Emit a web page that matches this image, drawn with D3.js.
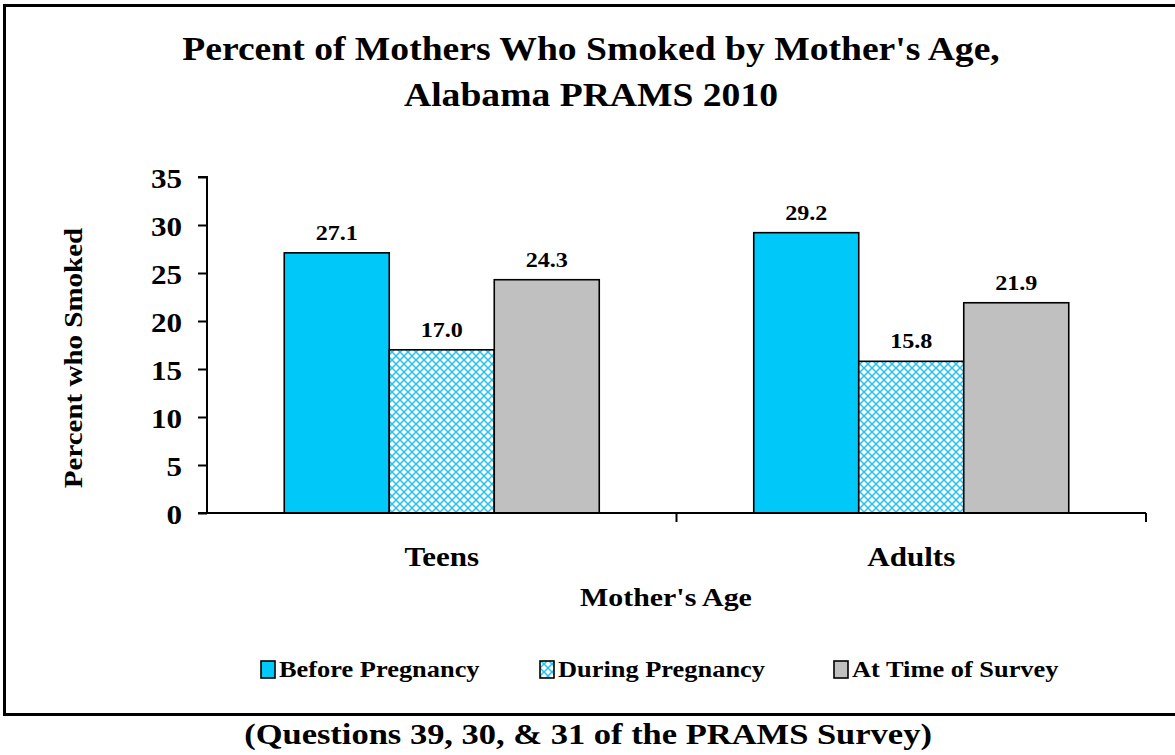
<!DOCTYPE html>
<html><head><meta charset="utf-8">
<script src="https://cdn.jsdelivr.net/npm/d3@7"></script>
<style>body{margin:0;background:#fff;}svg{display:block;font-family:"Liberation Serif","Times New Roman",serif;font-weight:bold;}</style>
</head><body>
<svg id="c" width="1175" height="755"></svg>
<script>
const categories = ["Teens", "Adults"];
const seriesNames = ["Before Pregnancy", "During Pregnancy", "At Time of Survey"];
const beforePregnancy = [27.1, 29.2];
const duringPregnancy = [17.0, 15.8];
const atTimeOfSurvey = [24.3, 21.9];
const yTicks = [0, 5, 10, 15, 20, 25, 30, 35];
const seriesValues = [beforePregnancy, duringPregnancy, atTimeOfSurvey];

(function () {
const svg = d3.select("#c");
const SX = 1.15;
function label(parent, x, y, size, txt, anchor, rot, sx) {
  return parent.append("text")
    .attr("transform", `translate(${x},${y})${rot ? ` rotate(${rot})` : ""} scale(${sx || SX},1)`)
    .attr("text-anchor", anchor || "middle").attr("font-size", size)
    .attr("font-family", "Liberation Serif, Times New Roman, serif").attr("font-weight", "bold")
    .attr("fill", "#000").text(txt);
}
const defs = svg.append("defs");
const pat = defs.append("pattern").attr("id", "hatch").attr("patternUnits", "userSpaceOnUse")
  .attr("width", 8).attr("height", 8);
pat.append("rect").attr("width", 8).attr("height", 8).attr("fill", "#fff");
pat.append("path").attr("d", "M0,0 L8,8 M8,0 L0,8").attr("stroke", "#22c4ee").attr("stroke-width", 1.5);
const fills = ["#00c8f8", "url(#hatch)", "#c0c0c0"];

svg.append("rect").attr("x", 4.5).attr("y", 5.5).attr("width", 1175).attr("height", 709)
  .attr("fill", "none").attr("stroke", "#000").attr("stroke-width", 3);

label(svg, 591, 60, 33, "Percent of Mothers Who Smoked by Mother's Age,", "middle", 0, 1.14);
label(svg, 591, 106, 33, "Alabama PRAMS 2010", "middle", 0, 1.14);

const pl = 207, pr = 1146, pt = 177, pb = 513;
const y = d3.scaleLinear().domain([0, 35]).range([pb, pt]);
const x0 = d3.scaleBand().domain(categories).range([pl, pr]);
const x1 = d3.scaleBand().domain(d3.range(seriesNames.length)).range([0, 315]);

const g = svg.append("g");
categories.forEach((c, ci) => {
  const cx = x0(c) + x0.bandwidth() / 2 - 157.5;
  seriesValues.forEach((vals, si) => {
    const v = vals[ci];
    g.append("rect").attr("x", cx + x1(si)).attr("y", y(v))
      .attr("width", x1.bandwidth()).attr("height", y(0) - y(v))
      .attr("fill", fills[si]).attr("stroke", "#000").attr("stroke-width", 1.6);
    label(g, cx + x1(si) + x1.bandwidth() / 2, y(v) - 13, 21, v.toFixed(1));
  });
});

const ya = svg.append("g").attr("transform", `translate(${pl},0)`)
  .call(d3.axisLeft(y).tickValues(yTicks).tickSize(9).tickFormat(d3.format("d")));
ya.select(".domain").attr("stroke", "#000").attr("stroke-width", 2).attr("d", `M-9,${pt}H0V${pb}`);
ya.selectAll(".tick line").attr("stroke", "#000").attr("stroke-width", 2);
ya.selectAll(".tick text").remove();
ya.selectAll(".tick").each(function (d) {
  label(d3.select(this), -25, 10, 27, d3.format("d")(d), "end");
});

const xa = svg.append("g").attr("transform", `translate(0,${pb})`);
xa.append("line").attr("x1", pl - 9).attr("x2", pr).attr("stroke", "#000").attr("stroke-width", 2);
[pl + x0.bandwidth(), pr].forEach(t => xa.append("line").attr("x1", t).attr("x2", t).attr("y1", 0).attr("y2", 9).attr("stroke", "#000").attr("stroke-width", 2));
categories.forEach(c => label(svg, x0(c) + x0.bandwidth() / 2, 566, 27, c));
label(svg, 666, 606, 26, "Mother's Age");
label(svg, 82, 358, 25, "Percent who Smoked", "middle", -90, 1.16);

const legX = [261, 540, 834];
seriesNames.forEach((n, i) => {
  svg.append("rect").attr("x", legX[i]).attr("y", 661).attr("width", 14).attr("height", 17)
    .attr("fill", fills[i]).attr("stroke", "#000").attr("stroke-width", 1.6);
  label(svg, legX[i] + 18, 677, 24, n, "start", 0, 1.1);
});

label(svg, 588, 744, 30, "(Questions 39, 30, & 31 of the PRAMS Survey)");
})();
</script>
</body></html>
